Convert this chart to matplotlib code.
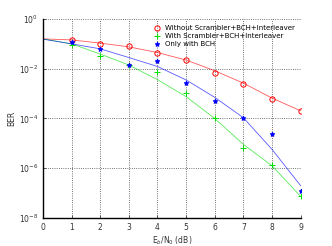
"""BER vs Eb/N0 for three coding chains."""

import matplotlib
import numpy as np

matplotlib.use("Agg")
from matplotlib import pyplot as plt

ebn0 = [0, 1, 2, 3, 4, 5, 6, 7, 8, 9]
x_ticks = [0, 1, 2, 3, 4, 5, 6, 7, 8, 9]
y_ticks = [1e0, 1e-2, 1e-4, 1e-6, 1e-8]

# log10(BER) of the simulated points
red_pts = [None, -0.83, -1.01, -1.08, -1.35, -1.63, -2.19, -2.6, -3.2, -3.68]
green_pts = [None, -1.05, -1.48, -1.84, -2.15, -2.98, -3.97, -5.17, -5.87, -7.13]
blue_pts = [None, -0.93, -1.2, -1.84, -1.68, -2.58, -3.28, -3.97, -4.64, -6.93]

# log10(BER) of the fitted curves
red_fit = [-0.8, -0.84, -0.97, -1.12, -1.35, -1.65, -2.08, -2.58, -3.18, -3.69]
green_fit = [-0.8, -1.0, -1.41, -1.85, -2.44, -3.12, -4.0, -5.04, -5.9, -7.13]
blue_fit = [-0.81, -1.0, -1.2, -1.55, -1.91, -2.45, -3.15, -3.97, -5.24, -6.7]

labels = [
    "Without Scrambler+BCH+Interleaver",
    "With Scrambler+BCH+Interleaver",
    "Only with BCH",
]

plt.rcParams["font.family"] = "DejaVu Sans"
plt.rcParams["font.size"] = 5.5

figure = plt.figure(figsize=(3.32, 2.46), dpi=100)
axis = figure.add_axes((0.1295, 0.1138, 0.776, 0.809))

series = (
    (red_pts, red_fit, "#ff0000", "o", 3.8, labels[0]),
    (green_pts, green_fit, "#00dd00", "+", 4.5, labels[1]),
    (blue_pts, blue_fit, "#0000ff", "*", 3.5, labels[2]),
)
for points, fit, color, marker, size, label in series:
    px = [x for x, v in zip(ebn0, points) if v is not None]
    py = [10.0 ** v for v in points if v is not None]
    axis.plot(ebn0, 10.0 ** np.array(fit), color=color, linewidth=0.6, alpha=0.65)
    axis.plot(
        px,
        py,
        linestyle="none",
        marker=marker,
        markersize=size,
        markerfacecolor="none" if marker == "o" else color,
        markeredgecolor=color,
        markeredgewidth=0.7,
        label=label,
    )

axis.set_yscale("log")
axis.set_xlim(0, 9)
axis.set_ylim(1e-8, 1e0)
axis.set_xticks(x_ticks)
axis.set_yticks(y_ticks)
axis.minorticks_off()
axis.grid(True, linestyle=":", color="#444444", linewidth=0.6)
axis.tick_params(direction="in", length=2, width=0.5, colors="#222222", labelcolor="#333333")
for side in ("top", "right"):
    axis.spines[side].set_visible(False)
for side in ("left", "bottom"):
    axis.spines[side].set_linewidth(1.0)
axis.set_xlabel(r"E$_b$/N$_0$ (dB)", color="#333333", labelpad=2)
axis.set_ylabel("BER", color="#333333", labelpad=2)
axis.legend(
    loc="upper right",
    frameon=False,
    fontsize=5,
    handlelength=1.0,
    handletextpad=0.6,
    labelspacing=0.3,
    borderaxespad=0.5,
)

figure.savefig("out.png", dpi=100)
plt.close(figure)
